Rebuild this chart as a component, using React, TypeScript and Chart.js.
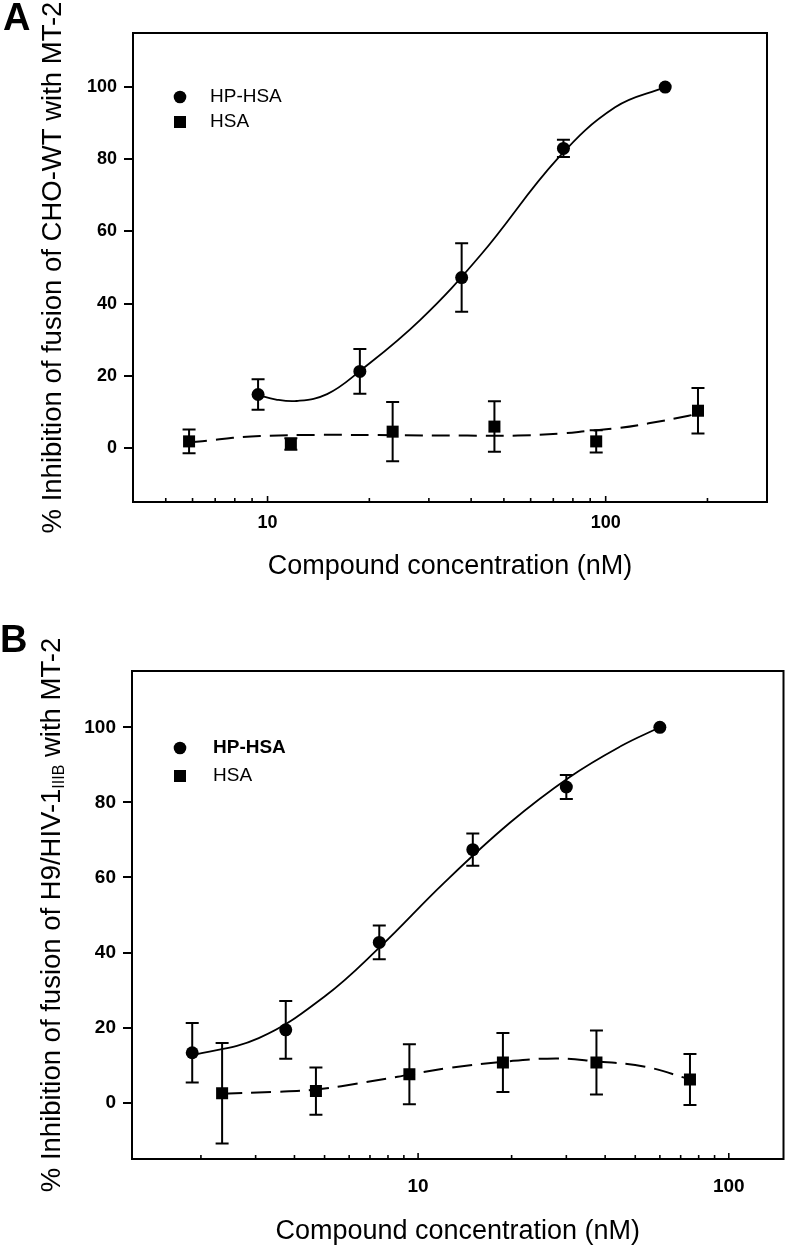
import React, { useEffect, useRef } from "react";
import { Chart, registerables } from "chart.js";

Chart.register(...registerables);

const FONT = "'Liberation Sans', Arial, Helvetica, sans-serif";
Chart.defaults.font.family = FONT;
Chart.defaults.color = "#000";

// ---------- Panel A data ----------
const concA_HPHSA = [9.375, 18.75, 37.5, 75, 150];
const inhA_HPHSA = [14.8, 21.2, 47.2, 83.0, 100];
const sdA_HPHSA = [4.2, 6.2, 9.5, 2.4, 0];

const concA_HSA = [5.86, 11.72, 23.44, 46.88, 93.75, 187.5];
const inhA_HSA = [1.8, 1.1, 4.5, 5.9, 1.8, 10.3];
const sdA_HSA = [3.3, 1.6, 8.2, 7.0, 3.1, 6.3];

const fitA_HPHSA_x = [9.3, 10.6, 12.2, 15, 18.7, 28.3, 42.8, 72.3, 106.6, 150];
const fitA_HPHSA_y = [14.8, 13.4, 13.0, 14.9, 21.2, 35.5, 53.6, 80.3, 94.4, 100];

const fitA_HSA_x = [5.86, 6.7, 7.9, 9.5, 14, 24.7, 39, 55, 74, 88.7, 109, 134, 176, 187.5];
const fitA_HSA_y = [1.5, 2.0, 2.8, 3.3, 3.6, 3.5, 3.4, 3.4, 4.0, 4.7, 5.5, 6.8, 8.9, 9.6];

const xTicksA = [5, 6, 7, 8, 9, 10, 20, 30, 40, 50, 60, 70, 80, 90, 100, 200];
const xLabelsA = [10, 100];

// ---------- Panel B data ----------
const concB_HPHSA = [1.875, 3.75, 7.5, 15, 30, 60];
const inhB_HPHSA = [13.3, 19.4, 42.7, 67.4, 84.1, 100];
const sdB_HPHSA = [7.9, 7.7, 4.5, 4.3, 3.2, 0];

const concB_HSA = [2.34, 4.69, 9.375, 18.75, 37.5, 75];
const inhB_HSA = [2.5, 3.1, 7.6, 10.7, 10.7, 6.2];
const sdB_HSA = [13.4, 6.3, 8.0, 7.85, 8.5, 6.8];

const fitB_HPHSA_x = [1.87, 3.07, 5.0, 7.5, 12.1, 19.7, 30.7, 45, 60];
const fitB_HPHSA_y = [12.6, 17.2, 28.3, 41.3, 58.5, 74.5, 86.7, 95.0, 100];

const fitB_HSA_x = [2.34, 3.5, 4.69, 5.66, 8.59, 9.375, 12.4, 18.75, 27.8, 37.5, 53.8, 75];
const fitB_HSA_y = [2.4, 2.9, 3.5, 4.4, 6.9, 7.5, 9.2, 10.9, 11.8, 11.0, 9.6, 6.2];

const xTicksB = [2, 3, 4, 5, 6, 7, 8, 9, 10, 20, 30, 40, 50, 60, 70, 80, 90, 100];
const xLabelsB = [10, 100];

// ---------- shared ----------
const yTicks = [0, 20, 40, 60, 80, 100];
const yMin = -15;
const yMax = 115;
const seriesNames = ["HP-HSA", "HSA"];
const xTitle = "Compound concentration (nM)";

type Part = { text: string; sub?: boolean };
type Series = { x: number[]; y: number[]; sd?: number[] };

interface PanelCfg {
  width: number;
  height: number;
  top: number;
  padding: { left: number; top: number; right: number; bottom: number };
  yAxisWidth: number;
  xAxisHeight: number;
  xMin: number;
  xMax: number;
  xTicks: number[];
  xLabels: number[];
  tickFont: number;
  xTickPadding: number;
  hp: Series;
  hsa: Series;
  fitHp: Series;
  fitHsa: Series;
  yTitle: Part[];
  yTitleBaseline: number;
  legend: { markerX: number; textX: number; y1: number; y2: number; boldFirst: boolean };
  dash: number[];
}

const toPts = (xs: number[], ys: number[]) => xs.map((x, i) => ({ x, y: ys[i] }));

function buildConfig(cfg: PanelCfg): any {
  const errorBars = {
    id: "errorBars",
    beforeDatasetsDraw(chart: any) {
      const ctx = chart.ctx;
      const ys = chart.scales.y;
      chart.data.datasets.forEach((ds: any, i: number) => {
        const sd: number[] | undefined = ds.sd;
        if (!sd) return;
        const meta = chart.getDatasetMeta(i);
        ctx.save();
        ctx.strokeStyle = "#000";
        ctx.lineWidth = 2;
        const cap = 6.5;
        meta.data.forEach((pt: any, j: number) => {
          if (!sd[j]) return;
          const v = ds.data[j].y;
          const x = pt.x;
          const yt = ys.getPixelForValue(v + sd[j]);
          const yb = ys.getPixelForValue(v - sd[j]);
          ctx.beginPath();
          ctx.moveTo(x, yt);
          ctx.lineTo(x, yb);
          ctx.moveTo(x - cap, yt);
          ctx.lineTo(x + cap, yt);
          ctx.moveTo(x - cap, yb);
          ctx.lineTo(x + cap, yb);
          ctx.stroke();
        });
        ctx.restore();
      });
    },
  };

  const frame = {
    id: "frame",
    afterDraw(chart: any) {
      const ctx = chart.ctx;
      const a = chart.chartArea;
      ctx.save();
      ctx.strokeStyle = "#000";
      ctx.lineWidth = 2;
      ctx.strokeRect(a.left, a.top, a.right - a.left, a.bottom - a.top);
      // inward x ticks
      const xs = chart.scales.x;
      ctx.lineWidth = 1.6;
      xs.ticks.forEach((t: any) => {
        const px = xs.getPixelForValue(t.value);
        const major = Math.abs(Math.log10(t.value) - Math.round(Math.log10(t.value))) < 1e-9;
        const len = major ? 5 : 3;
        ctx.beginPath();
        ctx.moveTo(px, a.bottom);
        ctx.lineTo(px, a.bottom - 1 - len);
        ctx.stroke();
      });
      ctx.restore();
    },
  };

  const yTitlePlugin = {
    id: "yTitle",
    afterDraw(chart: any) {
      const ctx = chart.ctx;
      const a = chart.chartArea;
      const cy = (a.top + a.bottom) / 2;
      const mainFont = `normal 27.5px ${FONT}`;
      const subFont = `normal 16px ${FONT}`;
      ctx.save();
      let total = 0;
      const widths = cfg.yTitle.map((p) => {
        ctx.font = p.sub ? subFont : mainFont;
        const w = ctx.measureText(p.text).width;
        total += w;
        return w;
      });
      ctx.translate(cfg.yTitleBaseline, cy);
      ctx.rotate(-Math.PI / 2);
      ctx.fillStyle = "#000";
      ctx.textBaseline = "alphabetic";
      ctx.textAlign = "left";
      let x = -total / 2;
      cfg.yTitle.forEach((p, i) => {
        ctx.font = p.sub ? subFont : mainFont;
        ctx.fillText(p.text, x, p.sub ? 4 : 0);
        x += widths[i];
      });
      ctx.restore();
    },
  };

  const legendPlugin = {
    id: "innerLegend",
    afterDraw(chart: any) {
      const ctx = chart.ctx;
      const L = cfg.legend;
      ctx.save();
      ctx.fillStyle = "#000";
      ctx.beginPath();
      ctx.arc(L.markerX, L.y1, 6.3, 0, Math.PI * 2);
      ctx.fill();
      ctx.fillRect(L.markerX - 6, L.y2 - 6, 12, 12);
      ctx.textBaseline = "middle";
      ctx.textAlign = "left";
      ctx.font = `${L.boldFirst ? "bold" : "normal"} 19px ${FONT}`;
      ctx.fillText(seriesNames[0], L.textX, L.y1);
      ctx.font = `normal 19px ${FONT}`;
      ctx.fillText(seriesNames[1], L.textX, L.y2);
      ctx.restore();
    },
  };

  return {
    type: "scatter",
    data: {
      datasets: [
        {
          label: seriesNames[0],
          data: toPts(cfg.hp.x, cfg.hp.y),
          sd: cfg.hp.sd,
          pointStyle: "circle",
          pointRadius: 6.5,
          pointBackgroundColor: "#000",
          pointBorderColor: "#000",
          pointBorderWidth: 0,
          showLine: false,
        },
        {
          label: seriesNames[1],
          data: toPts(cfg.hsa.x, cfg.hsa.y),
          sd: cfg.hsa.sd,
          pointStyle: "rect",
          pointRadius: 8.5,
          pointBackgroundColor: "#000",
          pointBorderColor: "#000",
          pointBorderWidth: 0,
          showLine: false,
        },
        {
          label: seriesNames[0] + " fit",
          data: toPts(cfg.fitHp.x, cfg.fitHp.y),
          showLine: true,
          pointRadius: 0,
          borderColor: "#000",
          borderWidth: 1.8,
          fill: false,
          tension: 0.4,
          cubicInterpolationMode: "default",
        },
        {
          label: seriesNames[1] + " fit",
          data: toPts(cfg.fitHsa.x, cfg.fitHsa.y),
          showLine: true,
          pointRadius: 0,
          borderColor: "#000",
          borderWidth: 2,
          borderDash: cfg.dash,
          fill: false,
          tension: 0.4,
          cubicInterpolationMode: "default",
        },
      ],
    },
    options: {
      animation: false,
      responsive: false,
      events: [],
      layout: { padding: cfg.padding },
      plugins: {
        legend: { display: false },
        tooltip: { enabled: false },
      },
      scales: {
        x: {
          type: "logarithmic",
          min: cfg.xMin,
          max: cfg.xMax,
          afterBuildTicks: (s: any) => {
            s.ticks = cfg.xTicks.map((v) => ({ value: v }));
          },
          afterFit: (s: any) => {
            s.height = cfg.xAxisHeight;
          },
          grid: { display: false, drawTicks: false },
          border: { display: false },
          ticks: {
            autoSkip: false,
            maxRotation: 0,
            minRotation: 0,
            padding: cfg.xTickPadding,
            color: "#000",
            font: { size: cfg.tickFont, weight: "bold" },
            callback: (v: any) => (cfg.xLabels.includes(Number(v)) ? String(v) : ""),
          },
          title: {
            display: true,
            text: xTitle,
            color: "#000",
            padding: 0,
            font: { size: 27 },
          },
        },
        y: {
          type: "linear",
          min: yMin,
          max: yMax,
          afterBuildTicks: (s: any) => {
            s.ticks = yTicks.map((v) => ({ value: v }));
          },
          afterFit: (s: any) => {
            s.width = cfg.yAxisWidth;
          },
          grid: {
            drawOnChartArea: false,
            drawTicks: true,
            tickLength: 9,
            color: "#000",
            lineWidth: 2,
          },
          border: { display: false },
          ticks: {
            padding: 7,
            color: "#000",
            font: { size: cfg.tickFont, weight: "bold" },
          },
        },
      },
    },
    plugins: [errorBars, frame, yTitlePlugin, legendPlugin],
  };
}

const panelA: PanelCfg = {
  width: 792,
  height: 620,
  top: 0,
  padding: { left: 0, top: 33, right: 25, bottom: 37 },
  yAxisWidth: 133,
  xAxisHeight: 81,
  xMin: 4,
  xMax: 300,
  xTicks: xTicksA,
  xLabels: xLabelsA,
  tickFont: 18,
  xTickPadding: 10,
  hp: { x: concA_HPHSA, y: inhA_HPHSA, sd: sdA_HPHSA },
  hsa: { x: concA_HSA, y: inhA_HSA, sd: sdA_HSA },
  fitHp: { x: fitA_HPHSA_x, y: fitA_HPHSA_y },
  fitHsa: { x: fitA_HSA_x, y: fitA_HSA_y },
  yTitle: [{ text: "% Inhibition of fusion of CHO-WT with MT-2" }],
  yTitleBaseline: 61,
  legend: { markerX: 180, textX: 210, y1: 97, y2: 122, boldFirst: false },
  dash: [18, 9],
};

const panelB: PanelCfg = {
  width: 792,
  height: 629,
  top: 620,
  padding: { left: 0, top: 51, right: 3, bottom: 1 },
  yAxisWidth: 132,
  xAxisHeight: 89,
  xMin: 1.2,
  xMax: 150,
  xTicks: xTicksB,
  xLabels: xLabelsB,
  tickFont: 19,
  xTickPadding: 16,
  hp: { x: concB_HPHSA, y: inhB_HPHSA, sd: sdB_HPHSA },
  hsa: { x: concB_HSA, y: inhB_HSA, sd: sdB_HSA },
  fitHp: { x: fitB_HPHSA_x, y: fitB_HPHSA_y },
  fitHsa: { x: fitB_HSA_x, y: fitB_HSA_y },
  yTitle: [
    { text: "% Inhibition of fusion of H9/HIV-1" },
    { text: "IIIB", sub: true },
    { text: " with MT-2" },
  ],
  yTitleBaseline: 60,
  legend: { markerX: 180, textX: 213, y1: 128, y2: 156, boldFirst: true },
  dash: [20, 9],
};

function Panel({ cfg }: { cfg: PanelCfg }) {
  const ref = useRef<HTMLCanvasElement>(null);
  useEffect(() => {
    if (!ref.current) return;
    const chart = new Chart(ref.current, buildConfig(cfg));
    return () => chart.destroy();
  }, [cfg]);
  return (
    <canvas
      ref={ref}
      width={cfg.width}
      height={cfg.height}
      style={{ position: "absolute", left: 0, top: cfg.top, width: cfg.width, height: cfg.height }}
    />
  );
}

const letterStyle: React.CSSProperties = {
  position: "absolute",
  fontFamily: FONT,
  fontWeight: "bold",
  fontSize: 38,
  lineHeight: "38px",
  color: "#000",
  margin: 0,
};

export default function App() {
  return (
    <div
      style={{
        position: "absolute",
        left: 0,
        top: 0,
        width: 792,
        height: 1249,
        background: "#fff",
        overflow: "hidden",
      }}
    >
      <Panel cfg={panelA} />
      <Panel cfg={panelB} />
      <div style={{ ...letterStyle, left: 3, top: -2 }}>A</div>
      <div style={{ ...letterStyle, left: 0, top: 620 }}>B</div>
    </div>
  );
}
